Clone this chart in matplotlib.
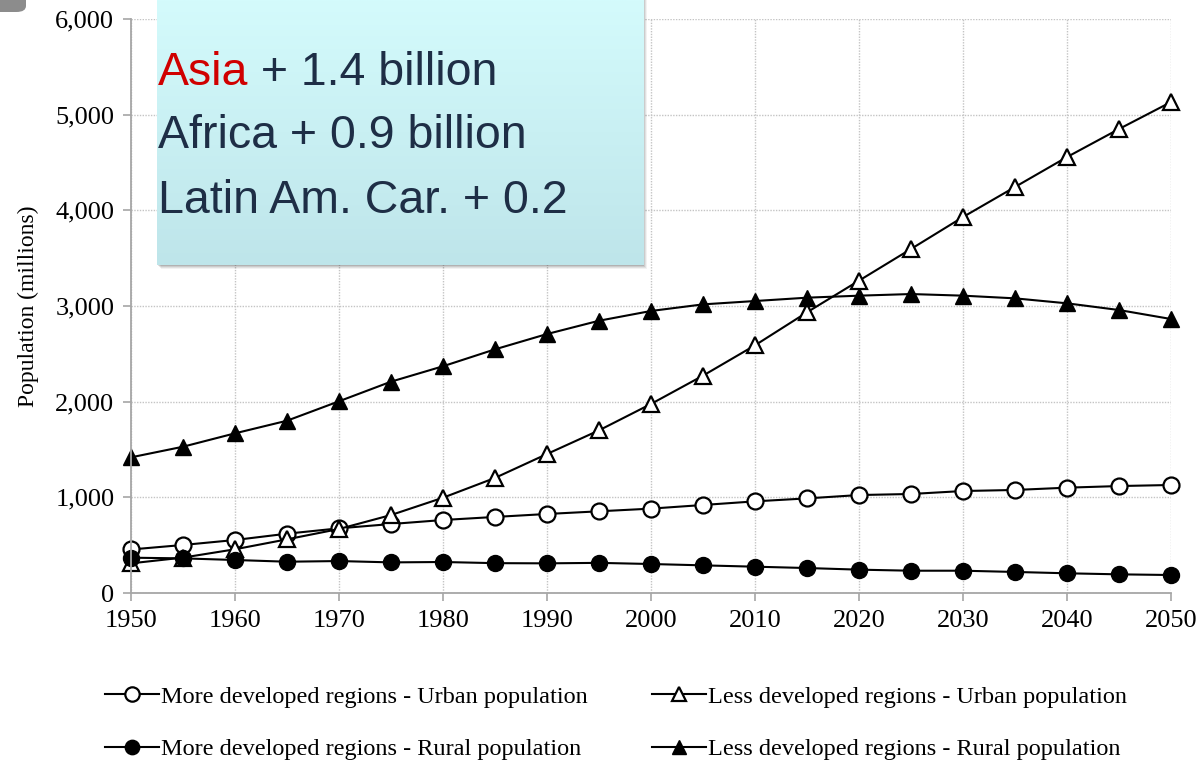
import numpy as np
import matplotlib
matplotlib.use('Agg')
import matplotlib.pyplot as plt
from matplotlib.patches import Rectangle, FancyBboxPatch

years = list(range(1950, 2051, 5))
md_urban = [455, 502, 554, 620, 676, 721, 763, 795, 826, 854, 882, 920, 958, 989, 1024,
            1035, 1066, 1077, 1101, 1118, 1129]
ld_urban = [310, 370, 457, 561, 669, 815, 996, 1203, 1453, 1700, 1976, 2272, 2589, 2934, 3265,
            3596, 3930, 4244, 4557, 4850, 5132]
md_rural = [369, 362, 345, 327, 334, 320, 324, 312, 310, 315, 303, 289, 275, 261, 244,
            233, 233, 220, 206, 195, 188]
ld_rural = [1418, 1529, 1669, 1801, 2004, 2209, 2370, 2547, 2707, 2846, 2948, 3017, 3052, 3087, 3108,
            3125, 3108, 3080, 3028, 2958, 2864]

labels = ['More developed regions - Urban population',
          'Less developed regions - Urban population',
          'More developed regions - Rural population',
          'Less developed regions - Rural population']

W, H = 1200, 762
fig = plt.figure(figsize=(12, 7.62), dpi=100)
ax = fig.add_axes([131 / W, 1 - 593 / H, 1040 / W, (593 - 19) / H])

serif = 'Liberation Serif'
lw = 1.5
h1, = ax.plot(years, md_urban, color='black', lw=lw, marker='o', ms=11.5, mfc='white', mec='black', mew=1.6)
h2, = ax.plot(years, ld_urban, color='black', lw=lw, marker='^', ms=11, mfc='white', mec='black', mew=1.6)
h3, = ax.plot(years, md_rural, color='black', lw=lw, marker='o', ms=11.5, mfc='black', mec='black')
h4, = ax.plot(years, ld_rural, color='black', lw=lw, marker='^', ms=11, mfc='black', mec='black')
for h in (h1, h2, h3, h4):
    h.set_clip_on(False)

ax.set_xlim(1950, 2050)
ax.set_ylim(0, 6000)
ax.set_xticks(range(1950, 2051, 10))
ax.set_yticks(range(0, 6001, 1000))
ax.set_yticklabels(['{:,}'.format(v) for v in range(0, 6001, 1000)])
ax.grid(True, color='#c4c4c4', linestyle=(0, (1, 1)), linewidth=1)
ax.set_axisbelow(True)
for s in ('top', 'right'):
    ax.spines[s].set_visible(False)
for s in ('left', 'bottom'):
    ax.spines[s].set_color('#a6a6a6')
    ax.spines[s].set_linewidth(1.3)
ax.tick_params(axis='both', direction='out', length=6, width=1.2, color='#a6a6a6',
               labelsize=19, pad=6)
for t in ax.get_xticklabels() + ax.get_yticklabels():
    t.set_fontfamily(serif)
ax.set_ylabel('Population (millions)', fontsize=17, fontfamily=serif, labelpad=12)

fig.legend([h1, h3, h2, h4],
           [labels[0], labels[2], labels[1], labels[3]],
           ncol=2, loc='upper left', bbox_to_anchor=(95 / W, 1 - 676 / H),
           frameon=False, prop={'family': serif, 'size': 17.5},
           handlelength=2.25, handletextpad=0.05, columnspacing=2.65, labelspacing=1.25,
           borderaxespad=0, markerscale=0.9)

# text box with gradient and shadow
bx0, bx1, by1 = 157, 643, 265
for i, a in enumerate([0.05, 0.07, 0.09, 0.12]):
    off = 4 - i
    fig.patches.append(Rectangle(((bx0 + off) / W, 1 - (by1 + off) / H),
                                 (bx1 - bx0) / W, (by1 + 20) / H,
                                 transform=fig.transFigure, facecolor='black',
                                 edgecolor='none', alpha=a, zorder=5))
bax = fig.add_axes([bx0 / W, 1 - by1 / H, (bx1 - bx0) / W, by1 / H], zorder=6)
top = np.array([212, 251, 252]) / 255
bot = np.array([190, 229, 234]) / 255
grad = np.linspace(0, 1, 256)[:, None, None]
img = top + (bot - top) * grad
bax.imshow(np.repeat(img, 2, axis=1), aspect='auto', extent=(0, 1, 0, 1), origin='upper')
bax.set_axis_off()

navy = '#1e2e46'
sans = 'Liberation Sans'
fs = 33.5
t1 = fig.text(158 / W, 1 - 85 / H, 'Asia', color='#d00000', fontsize=fs,
              fontfamily=sans, va='baseline', zorder=10)
fig.canvas.draw()
ext = t1.get_window_extent()
fig.text(ext.x1 / W, 1 - 85 / H, ' + 1.4 billion', color=navy, fontsize=fs,
         fontfamily=sans, va='baseline', zorder=10)
fig.text(158 / W, 1 - 148 / H, 'Africa + 0.9 billion', color=navy, fontsize=fs,
         fontfamily=sans, va='baseline', zorder=10)
fig.text(158 / W, 1 - 213 / H, 'Latin Am. Car. + 0.2', color=navy, fontsize=fs,
         fontfamily=sans, va='baseline', zorder=10)

# small grey corner fragment at top left
fig.patches.append(FancyBboxPatch((-10 / W, 1 - 12 / H), 36 / W, 30 / H,
                                  boxstyle='round,pad=0,rounding_size=0.008',
                                  transform=fig.transFigure, facecolor='#8c8c8c',
                                  edgecolor='none', zorder=5))

fig.savefig('out.png', dpi=100)
